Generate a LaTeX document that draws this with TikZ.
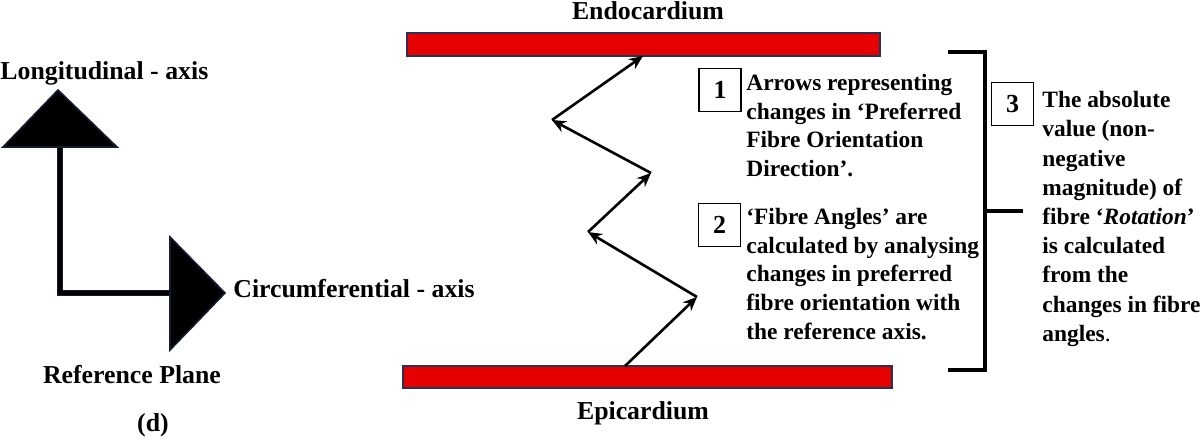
\documentclass[tikz,border=0pt]{standalone}
\usepackage{fontspec}
\setmainfont{Liberation Serif}
\usetikzlibrary{arrows.meta}
\definecolor{barred}{RGB}{230,0,0}
\definecolor{barline}{RGB}{40,50,85}
\definecolor{axisnavy}{RGB}{20,28,48}
\tikzset{
  bar/.style={fill=barred,draw=barline,line width=1pt},
  lbl/.style={font=\bfseries\fontsize{12.9}{15}\selectfont,inner sep=0pt},
  para/.style={font=\bfseries\fontsize{11.7}{14.3}\selectfont,inner sep=0pt,align=left,anchor=north west},
  numbox/.style={draw=black,line width=0.9pt,minimum width=21pt,minimum height=21.5pt,inner sep=0pt,font=\bfseries\fontsize{13}{15}\selectfont},
  fibre/.style={line width=1.3pt,-{Stealth[length=7pt,width=6pt]}},
  axhead/.style={fill=black,draw=axisnavy,line width=0.8pt},
  brk/.style={line width=2pt,line cap=butt}
}
\begin{document}
\begin{tikzpicture}[x=0.5pt,y=-0.5pt]
\useasboundingbox (0,0) rectangle (1200,440);
% reference axes
\draw[axisnavy,line width=3pt,line join=miter] (60,148) -- (60,293) -- (172,293);
\draw[line width=1.6pt,black,line join=miter] (60,148) -- (60,293) -- (172,293);
\draw[axhead] (58,90) -- (117,147) -- (3,147) -- cycle;
\draw[axhead] (170,237) -- (225,293) -- (170,350) -- cycle;
\node[lbl,anchor=west] (lon) at (0,73) {Longitudinal - axis};
\node[lbl,anchor=west] (cir) at (233,289) {Circumferential - axis};
\node[lbl] (ref) at (132,375) {Reference Plane};
\node[lbl] (d) at (153,425) {(d)};
% layers
\draw[bar] (407,33) rectangle (880,56);
\draw[bar] (403,366) rectangle (892,388);
\node[lbl] (endo) at (648,11) {Endocardium};
\node[lbl] (epi) at (643,413) {Epicardium};
% zigzag fibre arrows
\coordinate (p0) at (625,366);
\coordinate (p1) at (697,297);
\coordinate (p2) at (588,232);
\coordinate (p3) at (651,173);
\coordinate (p4) at (552,120);
\coordinate (p5) at (643,56);
\draw[fibre] (p0) -- (p1);
\draw[fibre] (p1) -- (p2);
\draw[fibre] (p2) -- (p3);
\draw[fibre] (p3) -- (p4);
\draw[fibre] (p4) -- (p5);
% numbered boxes
\node[numbox] (b1) at (720,90) {1};
\node[numbox] (b2) at (719.5,225) {2};
\node[numbox] (b3) at (1012.5,104) {3};
\node[para] (t1) at (746,74) {Arrows representing\\changes in ‘Preferred\\Fibre Orientation\\Direction’.};
\node[para] (t2) at (746,208) {‘Fibre Angles’ are\\calculated by analysing\\changes in preferred\\fibre orientation with\\the reference axis.};
\node[para,font=\bfseries\fontsize{11.7}{14.6}\selectfont] (t3) at (1042,91) {The absolute\\value (non-\\negative\\magnitude) of\\fibre ‘\textit{Rotation}’\\is calculated\\from the\\changes in fibre\\angles\textmd{.}};
% bracket
\coordinate (bt) at (948,52);
\coordinate (bb) at (948,370);
\coordinate (bm) at (1023,211);
\draw[brk,line join=miter] (bt) -- (985,52) -- (985,370) -- (bb);
\draw[brk] (985,211) -- (bm);
\end{tikzpicture}
\end{document}
